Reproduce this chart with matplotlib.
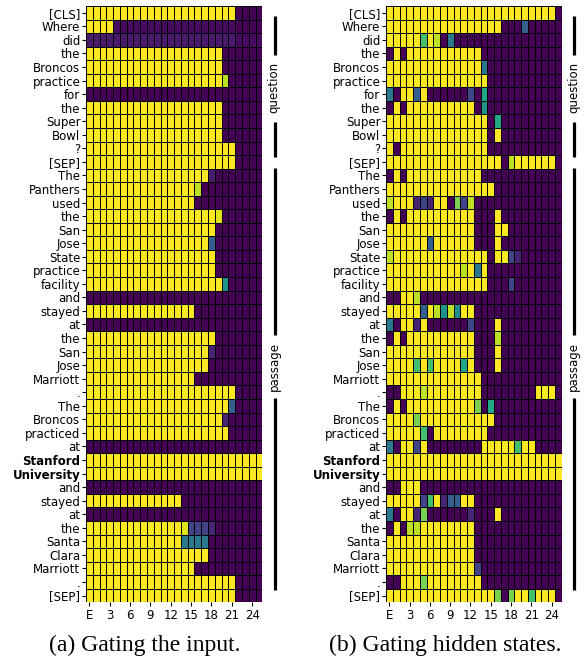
import numpy as np
import matplotlib
matplotlib.use("Agg")
import matplotlib.pyplot as plt

tokens = ["[CLS]", "Where", "did", "the", "Broncos", "practice", "for", "the",
          "Super", "Bowl", "?", "[SEP]", "The", "Panthers", "used", "the", "San",
          "Jose", "State", "practice", "facility", "and", "stayed", "at", "the",
          "San", "Jose", "Marriott", ".", "The", "Broncos", "practiced", "at",
          "Stanford", "University", "and", "stayed", "at", "the", "Santa",
          "Clara", "Marriott", ".", "[SEP]"]
bold_tokens = [33, 34]

layer_ticks = [0, 3, 6, 9, 12, 15, 18, 21, 24]
layer_tick_labels = ["E", "3", "6", "9", "12", "15", "18", "21", "24"]

# cell codes: '.'=0, 'a'=0.03, 'b'=0.07, digit d = d/10, 'y'=0.95, '#'=1
code_values = {'.': 0.0, 'a': 0.03, 'b': 0.07, 'y': 0.95, '#': 1.0}

gate_input = [
    "######################....",
    "####aaaaaaaaaaaaaaaaaa....",
    "bbbbbbbbbbbbbbbbbbbbbbaaaa",
    "####################......",
    "####################......",
    "####################9.....",
    "..........................",
    "####################......",
    "####################......",
    "####################......",
    "######################....",
    "######################....",
    "##################b.......",
    "################9.........",
    "################..........",
    "###################y......",
    "###################.......",
    "##################3.......",
    "###################.......",
    "###################.......",
    "####################5.....",
    "..........................",
    "################..........",
    "..........................",
    "###################.......",
    "##################1.......",
    "##################........",
    "################..........",
    "######################....",
    "#####################3....",
    "####################1.....",
    "#####################.....",
    "..........................",
    "##########################",
    "##########################",
    "..........................",
    "##############............",
    "..........................",
    "##############y2221.......",
    "##############4444........",
    "##################........",
    "################..........",
    "######################....",
    "######################....",
]

gate_hidden = [
    "#########################.",
    "#################...3.....",
    "#####7#9.4................",
    ".#.###########............",
    "##############4...........",
    "###############...........",
    "4.##3#......2.6...........",
    ".#.##########.5...........",
    "###############.6.........",
    "###############.#.........",
    "#.#############...........",
    "#################.9######.",
    ".#.###########............",
    "################..........",
    "9###121##.829.............",
    ".#.##########...#.........",
    "#############...##........",
    "######3######...#.........",
    "9##############.##21......",
    "###########9#4#...........",
    "###############...2.......",
    "..##9.....................",
    "#####3#9595##.............",
    "4.##1#......2...#.........",
    ".#.##########...9.........",
    "#############...#.........",
    "####7#7####6#...#.........",
    "##############............",
    "..###9########........###.",
    ".#.##########8.6..........",
    "####8###########..........",
    "#####7.########...........",
    "4.##2#........#####7##....",
    "##########################",
    "##########################",
    "..###.....................",
    "#####27#133##.............",
    "4.##18......1...#.........",
    ".#.99########.............",
    "#############.............",
    "#############.............",
    "#############2............",
    "..###8########............",
    "################8.8##7###.",
]

captions = ["(a) Gating the input.", "(b) Gating hidden states."]
group_names = ["question", "passage"]


def decode(rows):
    out = []
    for r in rows:
        vals = []
        for ch in r:
            if ch in code_values:
                vals.append(code_values[ch])
            else:
                vals.append(int(ch) / 10.0)
        out.append(vals)
    return np.array(out)


fig = plt.figure(figsize=(5.85, 6.59), dpi=100)
W, H = 585.0, 659.0
top_px, bot_px = 6.0, 602.3
panels = [(86.0, 262.3), (386.0, 561.7)]

# layout of group brackets (row coordinates)
bracket_x = 27.35
bracket_segments = [[(0.22, 3.12), (8.04, 10.62)], [(11.43, 23.78), (28.45, 42.6)]]
bracket_text_y = [5.54, 26.07]

caption_x = [145.0, 445.6]

for p, (data_rows, (x0, x1)) in enumerate(zip([gate_input, gate_hidden], panels)):
    M = decode(data_rows)
    nrow, ncol = M.shape
    ax = fig.add_axes([x0 / W, 1 - bot_px / H, (x1 - x0) / W, (bot_px - top_px) / H])
    xe = np.arange(ncol + 1) - 0.5
    ye = np.arange(nrow + 1) - 0.5
    ax.pcolormesh(xe, ye, M, cmap="viridis", vmin=0, vmax=1,
                  edgecolors="black", linewidth=0.7)
    ax.set_xlim(-0.5, ncol - 0.5)
    ax.set_ylim(nrow - 0.5, -0.5)
    ax.set_yticks(np.arange(nrow))
    ax.set_yticklabels(tokens, fontsize=8.5)
    for i in bold_tokens:
        ax.get_yticklabels()[i].set_fontweight("bold")
    ax.set_xticks(layer_ticks)
    ax.set_xticklabels(layer_tick_labels, fontsize=8.5)
    ax.tick_params(axis="y", length=3, pad=1, width=0.8)
    ax.tick_params(axis="x", length=3, pad=2, width=0.8)
    for s in ax.spines.values():
        s.set_visible(False)

    for g, segs in enumerate(bracket_segments):
        for (a, b) in segs:
            ax.plot([bracket_x, bracket_x], [a, b], color="black", lw=2.3,
                    clip_on=False, solid_capstyle="butt")
        ax.text(bracket_x - 0.1, bracket_text_y[g], group_names[g], rotation=90,
                ha="center", va="center", fontsize=8.5, clip_on=False)

    fig.text(caption_x[p] / W, 1 - 651.5 / H, captions[p], ha="center",
             va="baseline", fontsize=17, family="Liberation Serif")

fig.savefig("out.png", dpi=100)
